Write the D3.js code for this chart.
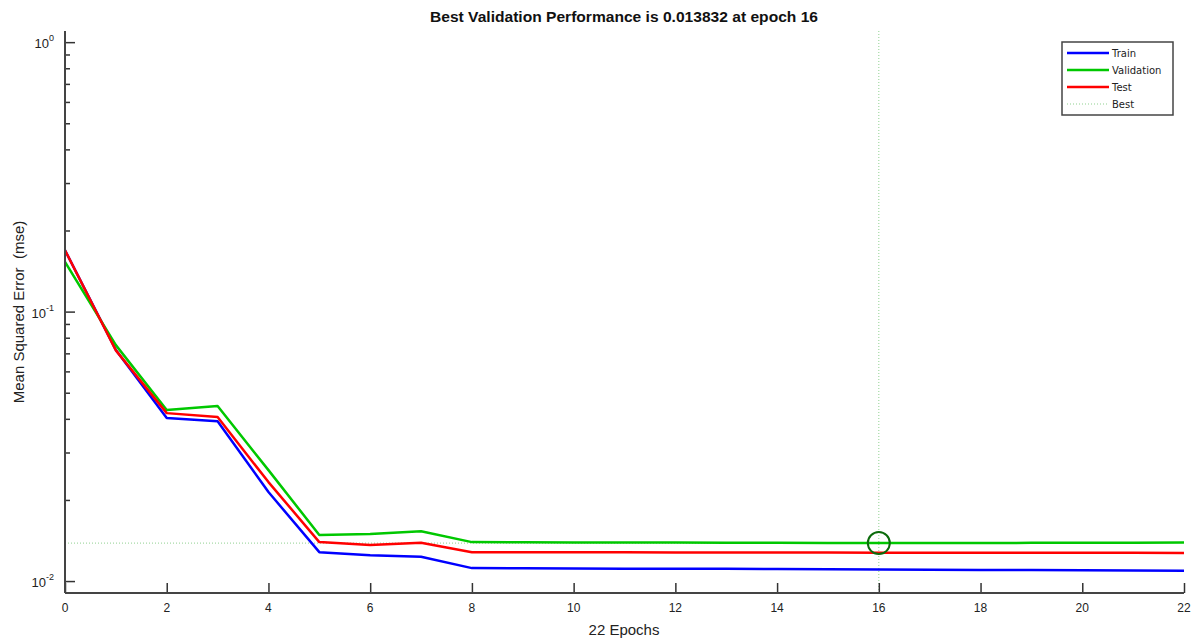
<!DOCTYPE html>
<html>
<head>
<meta charset="utf-8">
<script src="https://cdn.jsdelivr.net/npm/d3@7"></script>
<style>
  body { margin: 0; background: #fff; }
  svg { display: block; font-family: "Liberation Sans", Arial, sans-serif; }
</style>
</head>
<body>
<svg id="chart"></svg>
<script>
// data
let epochs = d3.range(0, 23)
let train = [0.169, 0.072, 0.0403, 0.0392, 0.0214, 0.0128, 0.01248, 0.0123, 0.01117,
             0.01115, 0.01114, 0.01112, 0.01111, 0.0111, 0.01108, 0.01106, 0.01104,
             0.01102, 0.011, 0.01098, 0.01096, 0.01094, 0.01092]
let validation = [0.153, 0.0751, 0.0431, 0.0446, 0.0258, 0.01482, 0.01494, 0.0153, 0.01395,
                  0.01393, 0.01391, 0.0139, 0.01389, 0.01387, 0.01386, 0.01384, 0.013832,
                  0.01384, 0.01385, 0.01386, 0.01387, 0.01388, 0.01389]
let test = [0.169, 0.0718, 0.042, 0.0406, 0.0233, 0.01395, 0.0136, 0.01388, 0.0128,
            0.01279, 0.01279, 0.01278, 0.01277, 0.01277, 0.01276, 0.01276, 0.01275,
            0.01275, 0.01274, 0.01274, 0.01273, 0.01273, 0.01272]
let bestEpoch = 16
let bestValue = 0.013832
let xTicks = d3.range(0, 23, 2)
let yMajor = [1, 0.1, 0.01]
let yExp = ['0', '-1', '-2']
let legendNames = ['Train', 'Validation', 'Test', 'Best']
let colors = ['#0000ff', '#00c800', '#ff0000']

let width = 1192
let height = 638
let padLeft = 65, padRight = 1184, padTop = 31, padBottom = 593

let svg = d3.select('#chart').attr('width', width).attr('height', height)

let x = d3.scaleLinear().domain([0, 22]).range([padLeft, padRight])
let y = d3.scaleLog().domain([0.00903, 1.1]).range([padBottom, padTop])

// best markers
svg.append('line')
    .attr('x1', x(bestEpoch)).attr('x2', x(bestEpoch))
    .attr('y1', padTop).attr('y2', padBottom)
    .attr('stroke', '#8fd18f').attr('stroke-width', 1).attr('stroke-dasharray', '1,2')
svg.append('line')
    .attr('x1', padLeft).attr('x2', x(bestEpoch))
    .attr('y1', y(bestValue)).attr('y2', y(bestValue))
    .attr('stroke', '#8fd18f').attr('stroke-width', 1).attr('stroke-dasharray', '1,2')

// series
let line = d3.line().x((d, i) => x(epochs[i])).y(d => y(d))
let series = [train, validation, test]
svg.selectAll('path.series')
    .data([0, 1, 2])
    .enter()
    .append('path')
    .attr('class', 'series')
    .attr('d', i => line(series[i]))
    .attr('fill', 'none')
    .attr('stroke', i => colors[i])
    .attr('stroke-width', 2.5)
    .attr('stroke-linejoin', 'round')

svg.append('circle')
    .attr('cx', x(bestEpoch)).attr('cy', y(bestValue)).attr('r', 11)
    .attr('fill', 'none').attr('stroke', '#0b6b0b').attr('stroke-width', 2)

// axes (ticks point inward)
let xAxis = d3.axisTop(x).tickValues(xTicks).tickSize(10).tickFormat('')
let gx = svg.append('g').attr('transform', 'translate(0,' + padBottom + ')').call(xAxis)
gx.select('.domain').remove()
gx.selectAll('line').attr('stroke', '#333').attr('stroke-width', 1.5)
svg.selectAll('text.xt')
    .data(xTicks)
    .enter()
    .append('text')
    .attr('class', 'xt')
    .attr('x', d => x(d)).attr('y', 612)
    .attr('text-anchor', 'middle')
    .attr('font-size', 12).attr('fill', '#222')
    .text(d => d)

let minor = []
yMajor.forEach(m => { if (m < 1) d3.range(2, 10).forEach(k => minor.push(m * k)) })
let yMinorAxis = d3.axisRight(y).tickValues(minor).tickSize(5).tickFormat('')
let gym = svg.append('g').attr('transform', 'translate(' + padLeft + ',0)').call(yMinorAxis)
gym.select('.domain').remove()
gym.selectAll('line').attr('stroke', '#333').attr('stroke-width', 1.5)
let yAxis = d3.axisRight(y).tickValues(yMajor).tickSize(10).tickFormat('')
let gy = svg.append('g').attr('transform', 'translate(' + padLeft + ',0)').call(yAxis)
gy.select('.domain').remove()
gy.selectAll('line').attr('stroke', '#333').attr('stroke-width', 1.5)

let yl = svg.selectAll('text.yt')
    .data(yMajor)
    .enter()
    .append('text')
    .attr('class', 'yt')
    .attr('x', 54).attr('y', d => y(d) + 6)
    .attr('text-anchor', 'end')
    .attr('font-size', 13).attr('fill', '#222')
yl.append('tspan').text('10')
yl.append('tspan').attr('dy', -7).attr('font-size', 9).text((d, i) => yExp[i])

svg.append('line').attr('x1', padLeft).attr('x2', padLeft).attr('y1', padTop).attr('y2', padBottom)
    .attr('stroke', '#444').attr('stroke-width', 2)
svg.append('line').attr('x1', padLeft).attr('x2', padRight).attr('y1', padBottom).attr('y2', padBottom)
    .attr('stroke', '#444').attr('stroke-width', 2)

// titles
svg.append('text')
    .attr('x', 624).attr('y', 22).attr('text-anchor', 'middle')
    .attr('font-size', 15).attr('font-weight', 'bold').attr('fill', '#111')
    .attr('textLength', 388).attr('lengthAdjust', 'spacingAndGlyphs')
    .text('Best Validation Performance is 0.013832 at epoch 16')
svg.append('text')
    .attr('x', 624).attr('y', 635).attr('text-anchor', 'middle')
    .attr('font-size', 15).attr('fill', '#222')
    .text('22 Epochs')
svg.append('text')
    .attr('transform', 'translate(24,312) rotate(-90)')
    .attr('text-anchor', 'middle')
    .attr('font-size', 15).attr('fill', '#222')
    .attr('xml:space', 'preserve')
    .text('Mean Squared Error  (mse)')

// legend
let lg = svg.append('g').attr('transform', 'translate(1062,42)')
lg.append('rect').attr('width', 111).attr('height', 73)
    .attr('fill', '#fff').attr('stroke', '#444').attr('stroke-width', 1.5)
legendNames.forEach((name, i) => {
    let ly = 11 + i * 17
    lg.append('line').attr('x1', 5).attr('x2', 47).attr('y1', ly).attr('y2', ly)
        .attr('stroke', i < 3 ? colors[i] : '#8fd18f')
        .attr('stroke-width', i < 3 ? 2.5 : 1)
        .attr('stroke-dasharray', i < 3 ? null : '1,2')
    lg.append('text').attr('x', 50).attr('y', ly + 4)
        .attr('font-family', '"DejaVu Sans", sans-serif')
        .attr('font-size', 10).attr('fill', '#222').text(name)
})
</script>
</body>
</html>
